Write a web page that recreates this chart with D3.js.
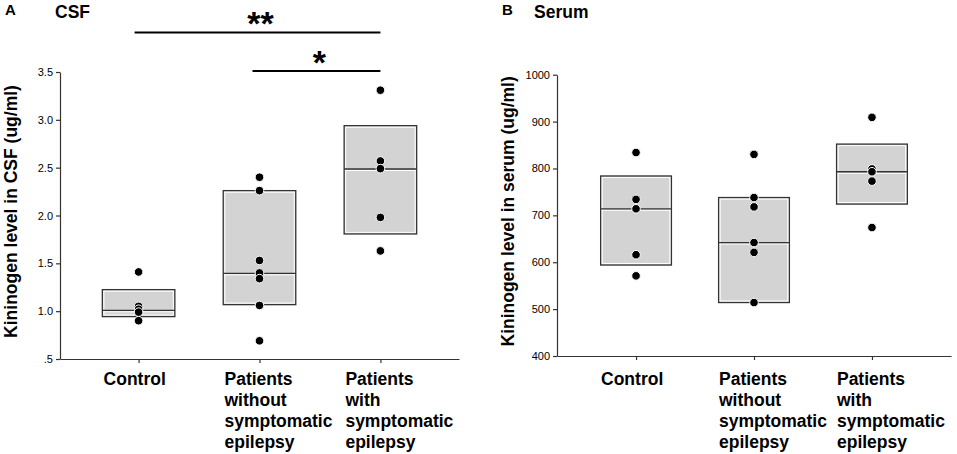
<!DOCTYPE html>
<html>
<head>
<meta charset="utf-8">
<script src="https://cdn.jsdelivr.net/npm/d3@7"></script>
<style>
  body { margin: 0; background: #fff; }
  text { font-family: "Liberation Sans", Arial, sans-serif; }
</style>
</head>
<body>
<div id="chart"></div>
<script>
// categories shared by both panels
var categories = ["Control", "Patients without symptomatic epilepsy", "Patients with symptomatic epilepsy"];
var categoryLines = [
  ["Control"],
  ["Patients", "without", "symptomatic", "epilepsy"],
  ["Patients", "with", "symptomatic", "epilepsy"]
];

// panel A: CSF (ug/ml)
var csfPoints = [
  [1.41, 1.05, 1.02, 0.99, 0.90],
  [2.40, 2.26, 1.53, 1.40, 1.34, 1.06, 0.69],
  [3.31, 2.57, 2.49, 1.98, 1.63]
];
var csfBoxLow = [0.943, 1.068, 1.807];
var csfBoxMedian = [1.009, 1.395, 2.486];
var csfBoxHigh = [1.225, 2.26, 2.939];
var csfTicks = [0.5, 1.0, 1.5, 2.0, 2.5, 3.0, 3.5];

// panel B: serum (ug/ml)
var serumPoints = [
  [834, 734, 714, 616, 571],
  [830, 738, 718, 642, 621, 514],
  [909, 799, 793, 773, 674]
];
var serumBoxLow = [594, 514, 724];
var serumBoxMedian = [714, 642, 793];
var serumBoxHigh = [784, 738, 852];
var serumTicks = [400, 500, 600, 700, 800, 900, 1000];

// significance bars for panel A
var sigFrom = [0, 1];
var sigTo = [2, 2];
var sigLabels = ["**", "*"];

var svgWidth = 957;
var svgHeight = 454;

var svg = d3.select("#chart")
  .append("svg")
  .attr("width", svgWidth)
  .attr("height", svgHeight);

function drawPanel(p) {
  var g = svg.append("g");

  var x = d3.scalePoint()
    .domain(categories)
    .range([p.left, p.right])
    .padding(p.padding);

  var y = d3.scaleLinear()
    .domain(p.domain)
    .range([p.bottom, p.top]);

  var boxW = x.step() * 0.6;

  // boxes
  categories.forEach(function (c, i) {
    var cx = x(c);
    var y0 = y(p.low[i]), y1 = y(p.high[i]), ym = y(p.median[i]);
    g.append("rect")
      .attr("x", cx - boxW / 2)
      .attr("y", y1)
      .attr("width", boxW)
      .attr("height", y0 - y1)
      .attr("fill", "#d3d3d3")
      .attr("stroke", "#333")
      .attr("stroke-width", 1.3);
    g.append("rect")
      .attr("x", cx - boxW / 2 + 1.6)
      .attr("y", y1 + 1.6)
      .attr("width", boxW - 3.2)
      .attr("height", y0 - y1 - 3.2)
      .attr("fill", "none")
      .attr("stroke", "#fff")
      .attr("stroke-width", 1);
    g.append("line")
      .attr("x1", cx - boxW / 2 + 1)
      .attr("x2", cx + boxW / 2 - 1)
      .attr("y1", ym + 1.5)
      .attr("y2", ym + 1.5)
      .attr("stroke", "#fff")
      .attr("stroke-width", 1);
    g.append("line")
      .attr("x1", cx - boxW / 2)
      .attr("x2", cx + boxW / 2)
      .attr("y1", ym)
      .attr("y2", ym)
      .attr("stroke", "#333")
      .attr("stroke-width", 1.3);
  });

  // points
  categories.forEach(function (c, i) {
    g.selectAll(null)
      .data(p.points[i])
      .enter()
      .append("circle")
      .attr("cx", x(c))
      .attr("cy", d => y(d))
      .attr("r", 4.3)
      .attr("fill", "#000")
      .attr("stroke", "#fff")
      .attr("stroke-width", 1);
  });

  // y axis
  var yAxis = g.append("g")
    .attr("transform", `translate(${p.left},0)`)
    .call(d3.axisLeft(y).tickValues(p.ticks).tickFormat(p.format).tickSize(4).tickSizeOuter(0));
  yAxis.selectAll("text")
    .attr("font-size", 11)
    .attr("font-family", "Liberation Sans, Arial, sans-serif")
    .attr("fill", "#000");

  // x axis
  var xAxis = g.append("g")
    .attr("transform", `translate(0,${p.bottom})`)
    .call(d3.axisBottom(x).tickSize(4).tickSizeOuter(0).tickFormat(""));

  g.selectAll(".domain, .tick line")
    .attr("stroke", "#333")
    .attr("stroke-width", 1.2);

  // category labels
  categories.forEach(function (c, i) {
    var t = g.append("text")
      .attr("font-size", 17.5)
      .attr("font-weight", "bold")
      .attr("fill", "#000");
    categoryLines[i].forEach(function (line, j) {
      t.append("tspan")
        .attr("x", x(c) - 35)
        .attr("y", 385 + j * 21)
        .text(line);
    });
  });

  // y axis title
  g.append("text")
    .attr("transform", `translate(${p.titleX},${(p.top + p.bottom) / 2 - 4}) rotate(-90)`)
    .attr("text-anchor", "middle")
    .attr("font-size", 17.5)
    .attr("font-weight", "bold")
    .text(p.yTitle);

  // panel letter and name
  g.append("text")
    .attr("x", p.letterX)
    .attr("y", 15)
    .attr("font-size", 15)
    .attr("font-weight", "bold")
    .text(p.letter);
  g.append("text")
    .attr("x", p.nameX)
    .attr("y", 17.5)
    .attr("font-size", 17.5)
    .attr("font-weight", "bold")
    .text(p.name);

  return { g: g, x: x, y: y };
}

var panelA = drawPanel({
  left: 60, right: 459, top: 72, bottom: 359, padding: 0.65,
  domain: [0.5, 3.5], ticks: csfTicks,
  format: d => d === 0.5 ? ".5" : d3.format(".1f")(d),
  points: csfPoints, low: csfBoxLow, median: csfBoxMedian, high: csfBoxHigh,
  yTitle: "Kininogen level in CSF (ug/ml)", titleX: 17,
  letter: "A", letterX: 5, name: "CSF", nameX: 55
});

var panelB = drawPanel({
  left: 557, right: 951, top: 74.7, bottom: 356, padding: 0.67,
  domain: [400, 1000], ticks: serumTicks,
  format: d3.format("d"),
  points: serumPoints, low: serumBoxLow, median: serumBoxMedian, high: serumBoxHigh,
  yTitle: "Kininogen level in serum (ug/ml)", titleX: 513.5,
  letter: "B", letterX: 502, name: "Serum", nameX: 534
});

// significance bars (panel A)
var sigY = [32.5, 71];
var sigStartOffset = [-4, -7];
sigLabels.forEach(function (lab, i) {
  var x1 = panelA.x(categories[sigFrom[i]]) + sigStartOffset[i];
  var x2 = panelA.x(categories[sigTo[i]]);
  panelA.g.append("line")
    .attr("x1", x1)
    .attr("x2", x2)
    .attr("y1", sigY[i])
    .attr("y2", sigY[i])
    .attr("stroke", "#000")
    .attr("stroke-width", 2);
  panelA.g.append("text")
    .attr("x", (x1 + x2) / 2 + 3)
    .attr("y", sigY[i] + 2.5)
    .attr("text-anchor", "middle")
    .attr("font-size", 34)
    .attr("font-weight", "bold")
    .text(lab);
});
</script>
</body>
</html>
